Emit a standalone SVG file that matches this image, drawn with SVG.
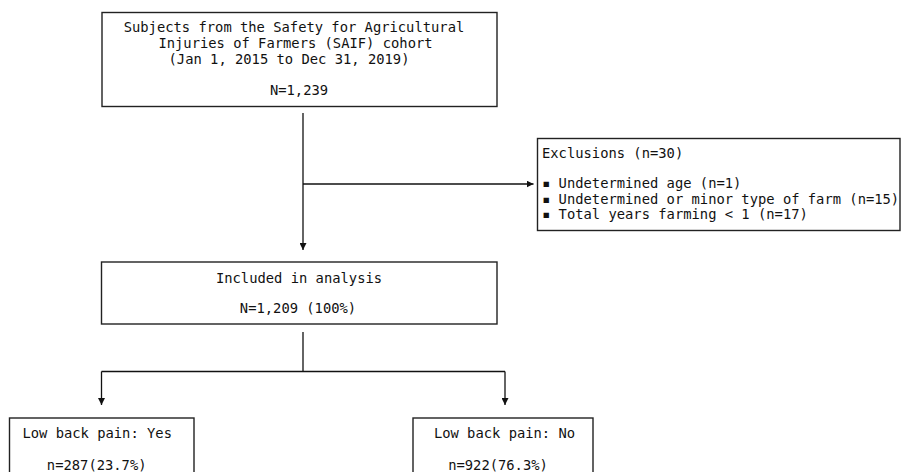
<svg xmlns="http://www.w3.org/2000/svg" width="902" height="472" viewBox="0 0 902 472">
<style>
.box{fill:#fff;stroke:#222;stroke-width:1.4}
.t{font-family:"DejaVu Sans Mono","Liberation Mono",monospace;font-size:13.8px;fill:#111}
.c{text-anchor:middle}
.ln{fill:none;stroke:#111;stroke-width:1.3}
</style>
<defs>
<marker id="ah" viewBox="0 0 8 8" refX="8" refY="4" markerWidth="7" markerHeight="7" markerUnits="userSpaceOnUse" orient="auto">
<path d="M0,0 L8,4 L0,8 z" fill="#111"/>
</marker>
</defs>
<rect width="902" height="472" fill="#fff"/>
<g id="connectors">
<path class="ln" d="M303,113 V250" marker-end="url(#ah)"/>
<path class="ln" d="M303,184 H533.5" marker-end="url(#ah)"/>
<path class="ln" d="M303,332 V371.5"/>
<path class="ln" d="M101.5,371.5 H505"/>
<path class="ln" d="M101.5,371.5 V405" marker-end="url(#ah)"/>
<path class="ln" d="M505,371.5 V405" marker-end="url(#ah)"/>
</g>
<g id="cohort">
<rect class="box" x="102" y="12.5" width="395" height="94"/>
<text class="t c" x="294" y="32.3">Subjects from the Safety for Agricultural</text>
<text class="t c" x="295.5" y="48.3">Injuries of Farmers (SAIF) cohort</text>
<text class="t c" x="289" y="64.3">(Jan 1, 2015 to Dec 31, 2019)</text>
<text class="t c" x="299" y="94.8">N=1,239</text>
</g>
<g id="exclusions">
<rect class="box" x="537.5" y="138.5" width="362.5" height="92"/>
<text class="t" x="542" y="158">Exclusions (n=30)</text>
<text class="t" x="542" y="188">▪ Undetermined age (n=1)</text>
<text class="t" x="542" y="204">▪ Undetermined or minor type of farm (n=15)</text>
<text class="t" x="542" y="219">▪ Total years farming &lt; 1 (n=17)</text>
</g>
<g id="included">
<rect class="box" x="101.5" y="262" width="395.5" height="62"/>
<text class="t c" x="299" y="283">Included in analysis</text>
<text class="t c" x="298" y="313">N=1,209 (100%)</text>
</g>
<g id="lbp-yes">
<rect class="box" x="9.5" y="418" width="184.5" height="70"/>
<text class="t c" x="97.2" y="438.3">Low back pain: Yes</text>
<text class="t c" x="96.7" y="469.8">n=287(23.7%)</text>
</g>
<g id="lbp-no">
<rect class="box" x="413" y="418" width="180" height="70"/>
<text class="t c" x="504.5" y="438.3">Low back pain: No</text>
<text class="t c" x="498" y="469.8">n=922(76.3%)</text>
</g>
</svg>
